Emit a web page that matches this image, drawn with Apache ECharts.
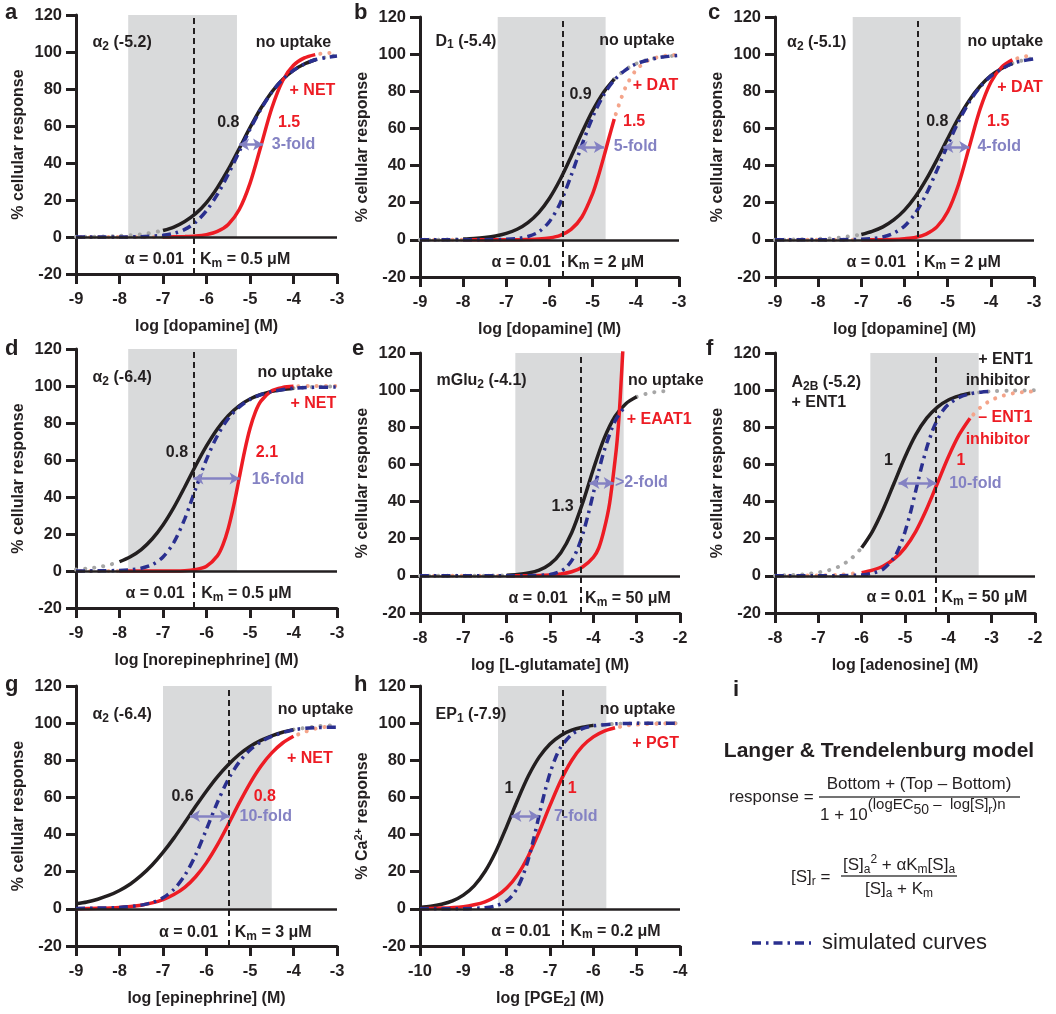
<!DOCTYPE html>
<html>
<head>
<meta charset="utf-8">
<script src="https://cdn.jsdelivr.net/npm/echarts@6/dist/echarts.min.js"></script>
<style>
  html, body { margin: 0; padding: 0; background: #fff; }
  #chart { width: 1056px; height: 1014px; }
</style>
</head>
<body>
<div id="chart"></div>
<script>
// ---- values: [log conc, % response] ----
// a: alpha2 / dopamine / NET
var aBlack = [[-7,3.5],[-6.75,5.4],[-6.5,8.4],[-6.25,12.6],[-6,18.6],[-5.75,26.7],[-5.5,36.5],[-5.25,47.7],[-5,59.1],[-4.75,69.6],[-4.5,78.4],[-4.25,85.2],[-4,90.1],[-3.75,93.5],[-3.5,95.8]];
var aBlackDotsL = [[-9,0.1],[-8.5,0.2],[-8,0.6],[-7.5,1.4],[-7,3.5]];
var aBlackDotsR = [[-3.5,95.8],[-3.25,97.2],[-3,98.3]];
var aRed = [[-7,0],[-6.75,0.1],[-6.5,0.2],[-6.25,0.5],[-6,1.3],[-5.75,3],[-5.5,6.8],[-5.25,14.7],[-5,29],[-4.75,49.1],[-4.5,69.6],[-4.25,84.5],[-4,92.8],[-3.75,96.8],[-3.5,98.6]];
var aRedDotsL = [[-9,0],[-8.5,0],[-8,0],[-7.5,0],[-7,0]];
var aRedDotsR = [[-3.5,98.6],[-3.25,99.4],[-3,99.7]];
var aBlue = [[-9,0],[-8.5,0],[-8,0],[-7.5,0.2],[-7,0.9],[-6.75,2],[-6.5,4.1],[-6.25,8],[-6,14.3],[-5.75,23],[-5.5,33.9],[-5.25,46],[-5,58.2],[-4.75,69.1],[-4.5,78.2],[-4.25,85.1],[-4,90.1],[-3.75,93.5],[-3.5,95.8],[-3.25,97],[-3,97.8]];

// b: D1 / dopamine / DAT
var bBlack = [[-8,0.5],[-7.75,0.8],[-7.5,1.3],[-7.25,2.1],[-7,3.5],[-6.75,5.7],[-6.5,9.3],[-6.25,14.7],[-6,22.4],[-5.75,32.6],[-5.5,44.8],[-5.25,57.7],[-5,69.6],[-4.75,79.4],[-4.5,86.6]];
var bBlackDotsL = [[-9,0],[-8.5,0.1],[-8,0.5]];
var bBlackDotsR = [[-4.5,86.6],[-4.25,91.5],[-4,94.8],[-3.75,96.8],[-3.5,98.1],[-3.25,98.9],[-3,99.3]];
var bRed = [[-8,0],[-7.5,0],[-7,0],[-6.5,0.2],[-6.25,0.4],[-6,1],[-5.75,2.4],[-5.5,5.6],[-5.25,12.3],[-5,24.9],[-4.875,33.8],[-4.75,44],[-4.625,54.7],[-4.5,65.1]];
var bRedDotsL = [[-9,0],[-8.5,0],[-8,0]];
var bRedDotsR = [[-4.5,65.1],[-4.25,81.5],[-4,91.3],[-3.75,96.1],[-3.5,98.3],[-3.25,99.3],[-3,99.7]];
var bBlue = [[-9,0],[-8.5,0],[-8,0],[-7.5,0.1],[-7,0.3],[-6.75,0.7],[-6.5,1.8],[-6.25,4.3],[-6,9.9],[-5.75,19.9],[-5.5,34.5],[-5.25,51],[-5,66.1],[-4.75,77.8],[-4.5,86],[-4.25,91.3],[-4,94.7],[-3.75,96.6],[-3.5,98],[-3.25,98.8],[-3,99.3]];

// c: alpha2 / dopamine / DAT
var cBlack = [[-7,2.9],[-6.75,4.6],[-6.5,7],[-6.25,10.7],[-6,16],[-5.75,23.2],[-5.5,32.4],[-5.25,43.1],[-5,54.6],[-4.75,65.6],[-4.5,75.1],[-4.25,82.7],[-4,88.4],[-3.75,92.3],[-3.5,95]];
var cBlackDotsL = [[-9,0],[-8.5,0.2],[-8,0.5],[-7.5,1.2],[-7,2.9]];
var cBlackDotsR = [[-3.5,95],[-3.25,96.7],[-3,97.9]];
var cRed = [[-7,0],[-6.5,0.1],[-6.25,0.2],[-6,0.6],[-5.75,1.3],[-5.5,3.1],[-5.25,7],[-5,15.1],[-4.75,29.7],[-4.5,50],[-4.25,70.3],[-4,84.9],[-3.75,93],[-3.5,96.9]];
var cRedDotsL = [[-9,0],[-8.5,0],[-8,0],[-7.5,0],[-7,0]];
var cRedDotsR = [[-3.5,96.9],[-3.25,98.6],[-3,99.4]];
var cBlue = [[-9,0],[-8.5,0],[-8,0],[-7.5,0.1],[-7,0.3],[-6.75,0.7],[-6.5,1.6],[-6.25,3.6],[-6,7.4],[-5.75,14.3],[-5.5,24.5],[-5.25,37.4],[-5,51],[-4.75,63.6],[-4.5,74.2],[-4.25,82.3],[-4,88.2],[-3.75,92],[-3.5,95],[-3.25,96.5],[-3,97.5]];

// d: alpha2 / norepinephrine / NET
var dBlack = [[-8,5],[-7.75,7.7],[-7.5,11.6],[-7.25,17.3],[-7,24.9],[-6.75,34.4],[-6.5,45.4],[-6.25,56.9],[-6,67.6],[-5.75,76.8],[-5.5,84],[-5.25,89.3],[-5,93],[-4.75,95.4],[-4.5,97.1],[-4.25,98.1],[-4,98.8]];
var dBlackDotsL = [[-9,0.8],[-8.75,1.3],[-8.5,2.1],[-8.25,3.2],[-8,5]];
var dBlackDotsR = [[-4,98.8],[-3.5,99.5],[-3,99.8]];
var dRed = [[-8,0],[-7.5,0],[-7,0],[-6.5,0.2],[-6.25,0.8],[-6,2.6],[-5.75,8.2],[-5.625,14],[-5.5,23],[-5.375,35.3],[-5.25,50],[-5.125,64.7],[-5,77],[-4.875,86],[-4.75,91.8],[-4.5,97.4],[-4.25,99.2],[-4,99.8]];
var dRedDotsL = [[-9,0],[-8.5,0],[-8,0]];
var dRedDotsR = [[-4,99.8],[-3.5,100],[-3,100]];
var dBlue = [[-9,0],[-8.5,0.1],[-8,0.3],[-7.75,0.7],[-7.5,1.5],[-7.25,3.4],[-7,7.6],[-6.75,15.5],[-6.5,28.2],[-6.25,44.4],[-6,60.3],[-5.75,73.1],[-5.5,82.4],[-5.25,88.6],[-5,92.7],[-4.75,95.3],[-4.5,97],[-4,98.8],[-3.5,99.3],[-3,99.4]];

// e: mGlu2 / L-glutamate / EAAT1
var eBlack = [[-6,0.3],[-5.75,0.7],[-5.5,1.5],[-5.25,3.1],[-5,6.3],[-4.75,12.5],[-4.5,23.2],[-4.25,39],[-4,57.4],[-3.75,74],[-3.5,85.8],[-3.25,92.7],[-3,96.4]];
var eBlackDotsL = [[-8,0],[-7,0],[-6,0.3]];
var eBlackDotsR = [[-3,96.4],[-2.75,98.2],[-2.5,99.2],[-2.2,99.6]];
var eRed = [[-6,0],[-5.5,0.1],[-5,0.5],[-4.75,1],[-4.5,2.2],[-4.25,4.8],[-4,10],[-3.875,15],[-3.75,25],[-3.625,39],[-3.5,62],[-3.45,73],[-3.4,88],[-3.36,104],[-3.32,121]];
var eRedDotsL = [[-8,0],[-7,0],[-6,0]];
var eBlue = [[-8,0],[-7,0],[-6,0],[-5.5,0.1],[-5,0.7],[-4.75,2.5],[-4.625,4.6],[-4.5,8.2],[-4.375,13.9],[-4.25,22],[-4.125,32.5],[-4,44.5],[-3.875,56.5],[-3.75,67.4],[-3.5,83.3],[-3.25,91.9]];

// f: A2B / adenosine / ENT1
var fBlack = [[-6,15.1],[-5.75,24],[-5.5,36],[-5.25,50],[-5,64],[-4.75,76],[-4.5,84.9],[-4.25,90.9],[-4,94.7],[-3.75,96.9],[-3.5,98.3]];
var fBlackDotsL = [[-8,0.1],[-7.75,0.3],[-7.5,0.6],[-7.25,1],[-7,1.8],[-6.75,3.1],[-6.5,5.3],[-6.25,9.1],[-6,15.1]];
var fBlackDotsR = [[-3.5,98.3],[-3,99.4],[-2.5,99.8],[-2,99.9]];
var fRed = [[-6,1.7],[-5.75,3.1],[-5.5,5.3],[-5.25,9.1],[-5,15.1],[-4.75,24],[-4.5,36],[-4.25,50],[-4,64],[-3.75,76],[-3.5,84.9]];
var fRedDotsL = [[-8,0],[-7.5,0.1],[-7,0.2],[-6.5,0.6],[-6,1.7]];
var fRedDotsR = [[-3.5,84.9],[-3.25,90.9],[-3,94.7],[-2.75,96.9],[-2.5,98.3],[-2.25,99],[-2,99.4]];
var fBlue = [[-8,0],[-7,0],[-6.5,0.1],[-6,0.5],[-5.75,1.4],[-5.5,3.7],[-5.25,9.9],[-5.125,15.6],[-5,23.7],[-4.875,34],[-4.75,46],[-4.625,58],[-4.5,68.8],[-4.375,77.6],[-4.25,84.2],[-4.125,89],[-4,92.3],[-3.75,96.1],[-3.5,98],[-3.25,98.9],[-3,99.4]];

// g: alpha2 / epinephrine / NET
var gBlack = [[-9,2.7],[-8.75,3.7],[-8.5,5.2],[-8.25,7.2],[-8,9.9],[-7.75,13.4],[-7.5,18],[-7.25,23.6],[-7,30.4],[-6.75,38.1],[-6.5,46.5],[-6.25,55.2],[-6,63.5],[-5.75,71.1],[-5.5,77.6],[-5.25,83.1],[-5,87.4],[-4.75,90.7],[-4.5,93.2],[-4.25,95.1],[-4,96.5]];
var gBlackDotsR = [[-4,96.5],[-3.5,98.2],[-3,99]];
var gRed = [[-9,0.1],[-8.5,0.3],[-8,0.8],[-7.5,2],[-7.25,3.2],[-7,5],[-6.75,7.7],[-6.5,11.6],[-6.25,17.3],[-6,24.9],[-5.75,34.4],[-5.5,45.4],[-5.25,56.9],[-5,67.6],[-4.75,76.8],[-4.5,84],[-4.25,89.3],[-4,92.9]];
var gRedDotsR = [[-4,92.9],[-3.75,95.2],[-3.5,97],[-3.25,98]];
var gBlue = [[-9,0.2],[-8.5,0.4],[-8,0.8],[-7.5,2],[-7.25,3.4],[-7,6],[-6.75,10.5],[-6.5,18],[-6.25,29],[-6,42.9],[-5.75,57.3],[-5.5,69.7],[-5.25,79],[-5,85.5],[-4.75,89.9],[-4.5,92.9],[-4,96.4],[-3.5,97.6],[-3,97.8]];

// h: EP1 / PGE2 / PGT
var hBlack = [[-10,0.8],[-9.75,1.4],[-9.5,2.5],[-9.25,4.3],[-9,7.4],[-8.75,12.4],[-8.5,20.1],[-8.25,30.9],[-8,44.3],[-7.75,58.5],[-7.5,71.5],[-7.25,81.7],[-7,88.8],[-6.75,93.4],[-6.5,96.2],[-6.25,97.8],[-6,98.8]];
var hBlackDotsR = [[-6,98.8],[-5.5,99.6],[-5,99.9],[-4.5,100],[-4,100]];
var hRed = [[-10,0.1],[-9.5,0.4],[-9,1.2],[-8.75,2.2],[-8.5,3.8],[-8.25,6.6],[-8,11.2],[-7.75,18.3],[-7.5,28.5],[-7.25,41.5],[-7,55.7],[-6.75,69.1],[-6.5,79.9],[-6.25,87.6],[-6,92.6],[-5.75,95.7],[-5.5,97.5]];
var hRedDotsR = [[-5.5,97.5],[-5.25,98.6],[-5,99.2],[-4.5,99.7],[-4,99.9]];
var hBlue = [[-10,0],[-9,0.1],[-8.5,0.6],[-8.25,1.6],[-8,4.3],[-7.875,7.1],[-7.75,11.4],[-7.625,17.9],[-7.5,26.7],[-7.375,37.9],[-7.25,50.5],[-7.125,62.6],[-7,73],[-6.875,81.2],[-6.75,87.1],[-6.5,93.9],[-6.25,97.1],[-6,98.5],[-5.5,99.6],[-5,99.9],[-4,100]];

// per-panel x ranges, grey windows, Km lines, fold arrows (log units)
var xRanges = [[-9,-3],[-9,-3],[-9,-3],[-9,-3],[-8,-2],[-8,-2],[-9,-3],[-10,-4]];
var bands   = [[-7.8,-5.3],[-7.2,-4.7],[-7.2,-4.7],[-7.8,-5.3],[-5.8,-3.3],[-5.8,-3.3],[-7,-4.5],[-8.2,-5.7]];
var kmLines = [-6.3,-5.7,-5.7,-6.3,-4.3,-4.3,-5.5,-6.7];
var folds   = [[-5.25,-4.7],[-5.35,-4.74],[-5.1,-4.5],[-6.3,-5.24],[-4.09,-3.53],[-5.15,-4.28],[-6.38,-5.47],[-7.89,-7.26]];
var xNames  = ['log [dopamine] (M)','log [dopamine] (M)','log [dopamine] (M)','log [norepinephrine] (M)',
               'log [L-glutamate] (M)','log [adenosine] (M)','log [epinephrine] (M)','log [PGE{s|2}] (M)'];
var yNames  = ['% cellular response','% cellular response','% cellular response','% cellular response',
               '% cellular response','% cellular response','% cellular response','% Ca{u|2+} response'];

var FONT = '"Liberation Sans", Arial, Helvetica, sans-serif';
var INK = '#231f20', RED = '#ed1c24', BLUE = '#2a2f8f', LILAC = '#8482c3';
var DOTGRAY = '#a6a6a6', SALMON = '#f4a48a', BAND = '#d9dadb';
var COLORS = {k: INK, r: RED, p: LILAC};

// plot boxes [left, top, width, height]
var boxes = [[76,15,261,259],[420,17,259,260],[775,17,259,260],
             [76,349,261,259],[420,353,260,260],[775,353,260,260],
             [76,686,261,260],[420,686,260,260]];

// annotation text: [x, y, text, align, colour]
var notes = [
  [[-8.62,105,'α{s|2} (-5.2)','left','k'],[-4.87,105,'no uptake','left','k'],[-4.09,79,'+ NET','left','r'],
   [-5.5,62,'0.8','center','k'],[-4.1,62,'1.5','center','r'],[-4.5,50,'3-fold','left','p'],
   [-6.52,-12,'α = 0.01','right','k'],[-6.15,-12,'K{s|m} = 0.5 μM','left','k']],
  [[-8.64,107,'D{s|1} (-5.4)','left','k'],[-4.85,107.5,'no uptake','left','k'],[-4.07,83,'+ DAT','left','r'],
   [-5.28,78,'0.9','center','k'],[-4.04,63.5,'1.5','center','r'],[-4.51,50,'5-fold','left','p'],
   [-5.97,-12,'α = 0.01','right','k'],[-5.59,-12,'K{s|m} = 2 μM','left','k']],
  [[-8.72,106,'α{s|2} (-5.1)','left','k'],[-4.54,106.7,'no uptake','left','k'],[-3.85,82,'+ DAT','left','r'],
   [-5.24,63.5,'0.8','center','k'],[-3.83,63.5,'1.5','center','r'],[-4.31,50,'4-fold','left','p'],
   [-5.97,-12,'α = 0.01','right','k'],[-5.55,-12,'K{s|m} = 2 μM','left','k']],
  [[-8.62,104.7,'α{s|2} (-6.4)','left','k'],[-4.83,107,'no uptake','left','k'],[-4.07,90.3,'+ NET','left','r'],
   [-6.68,64,'0.8','center','k'],[-4.61,64,'2.1','center','r'],[-4.96,49.6,'16-fold','left','p'],
   [-6.5,-12.2,'α = 0.01','right','k'],[-6.12,-12.2,'K{s|m} = 0.5 μM','left','k']],
  [[-7.62,105,'mGlu{s|2} (-4.1)','left','k'],[-3.2,105,'no uptake','left','k'],[-3.23,84,'+ EAAT1','left','r'],
   [-4.71,37.4,'1.3','center','k'],[-3.5,50,'>2-fold','left','p'],
   [-4.59,-12.2,'α = 0.01','right','k'],[-4.19,-12.2,'K{s|m} = 50 μM','left','k']],
  [[-7.62,104,'A{s|2B} (-5.2)','left','k'],[-7.62,93.4,'+ ENT1','left','k'],
   [-3.31,116.7,'+ ENT1','left','k'],[-3.6,105,'inhibitor','left','k'],
   [-3.31,85,'– ENT1','left','r'],[-3.6,73.6,'inhibitor','left','r'],
   [-5.38,62.3,'1','center','k'],[-3.71,62.3,'1','center','r'],[-3.98,49.7,'10-fold','left','p'],
   [-4.52,-11.7,'α = 0.01','right','k'],[-4.16,-11.7,'K{s|m} = 50 μM','left','k']],
  [[-8.62,104.5,'α{s|2} (-6.4)','left','k'],[-4.36,107.2,'no uptake','left','k'],[-4.15,81,'+ NET','left','r'],
   [-6.55,60.4,'0.6','center','k'],[-4.66,60.4,'0.8','center','r'],[-5.24,49.5,'10-fold','left','p'],
   [-5.73,-12.6,'α = 0.01','right','k'],[-5.35,-12.6,'K{s|m} = 3 μM','left','k']],
  [[-9.64,104.5,'EP{s|1} (-7.9)','left','k'],[-5.85,107.2,'no uptake','left','k'],[-5.1,89.2,'+ PGT','left','r'],
   [-7.95,65,'1','center','k'],[-6.49,65,'1','center','r'],[-6.91,49.5,'7-fold','left','p'],
   [-6.99,-12,'α = 0.01','right','k'],[-6.53,-12,'K{s|m} = 0.2 μM','left','k']]
];

var curves = [
  {black:aBlack, blackDots:[aBlackDotsL,aBlackDotsR], red:aRed, redDots:[aRedDotsL,aRedDotsR], blue:aBlue},
  {black:bBlack, blackDots:[bBlackDotsL,bBlackDotsR], red:bRed, redDots:[bRedDotsL,bRedDotsR], blue:bBlue},
  {black:cBlack, blackDots:[cBlackDotsL,cBlackDotsR], red:cRed, redDots:[cRedDotsL,cRedDotsR], blue:cBlue},
  {black:dBlack, blackDots:[dBlackDotsL,dBlackDotsR], red:dRed, redDots:[dRedDotsL,dRedDotsR], blue:dBlue},
  {black:eBlack, blackDots:[eBlackDotsL,eBlackDotsR], red:eRed, redDots:[eRedDotsL], blue:eBlue},
  {black:fBlack, blackDots:[fBlackDotsL,fBlackDotsR], red:fRed, redDots:[fRedDotsL,fRedDotsR], blue:fBlue},
  {black:gBlack, blackDots:[gBlackDotsR], red:gRed, redDots:[gRedDotsR], blue:gBlue},
  {black:hBlack, blackDots:[hBlackDotsR], red:hRed, redDots:[hRedDotsR], blue:hBlue}
];

var RICH = {
  s: {fontFamily: FONT, fontWeight: 'bold', fontSize: 12, lineHeight: 12, verticalAlign: 'bottom'},
  u: {fontFamily: FONT, fontWeight: 'bold', fontSize: 11, lineHeight: 11, verticalAlign: 'top'}
};

var chart = echarts.init(document.getElementById('chart'));

var grids = [], xAxes = [], yAxes = [], series = [];

boxes.forEach(function(b, i) {
  grids.push({left: b[0], top: b[1], width: b[2], height: b[3], containLabel: false});

  var axisCommon = {
    gridIndex: i,
    nameLocation: 'middle',
    nameMoveOverlap: false,
    nameTextStyle: {fontFamily: FONT, fontWeight: 'bold', fontSize: 16, color: INK, lineHeight: 20, rich: RICH},
    axisLine: {onZero: false, lineStyle: {color: INK, width: 3}},
    axisTick: {length: 10, lineStyle: {color: INK, width: 3}},
    splitLine: {show: false}
  };
  xAxes.push(Object.assign({}, axisCommon, {
    type: 'value', min: xRanges[i][0], max: xRanges[i][1], interval: 1,
    name: xNames[i], nameGap: 43,
    axisLabel: {fontFamily: FONT, fontWeight: 'bold', fontSize: 16.5, color: INK, margin: 17,
                showMinLabel: true, showMaxLabel: true}
  }));
  yAxes.push(Object.assign({}, axisCommon, {
    type: 'value', min: -20, max: 120, interval: 20,
    name: yNames[i], nameGap: 47,
    axisLabel: {fontFamily: FONT, fontWeight: 'bold', fontSize: 16.5, color: INK, margin: 14,
                showMinLabel: true, showMaxLabel: true}
  }));

  var base = {type: 'line', xAxisIndex: i, yAxisIndex: i, showSymbol: false, symbol: 'none',
              smooth: 0.3, silent: true, animation: false};

  // grey window (above the zero line), zero line and Km line
  series.push(Object.assign({}, base, {
    data: [],
    markArea: {silent: true, itemStyle: {color: BAND},
               data: [[{xAxis: bands[i][0], yAxis: 0}, {xAxis: bands[i][1], yAxis: 120}]]},
    markLine: {silent: true, symbol: ['none', 'none'], label: {show: false},
               data: [
                 {yAxis: 0, lineStyle: {color: INK, width: 2.5, type: 'solid'}},
                 {xAxis: kmLines[i], lineStyle: {color: INK, width: 2, type: [6, 4]}}
               ]}
  }));

  var c = curves[i];
  c.blackDots.forEach(function(d) {
    series.push(Object.assign({}, base, {data: d,
      lineStyle: {color: DOTGRAY, width: 4, type: [0.1, 9], cap: 'round'}}));
  });
  c.redDots.forEach(function(d) {
    series.push(Object.assign({}, base, {data: d,
      lineStyle: {color: SALMON, width: 4, type: [0.1, 9], cap: 'round', dashOffset: 4}}));
  });
  series.push(Object.assign({}, base, {data: c.black, lineStyle: {color: INK, width: 3.5}}));
  series.push(Object.assign({}, base, {data: c.red, lineStyle: {color: RED, width: 3.5}}));

  var labels = notes[i].map(function(n) {
    return {
      coord: [n[0], n[1]], symbol: 'circle', symbolSize: 0,
      label: {
        show: true, position: 'inside', align: n[3], verticalAlign: 'middle',
        color: COLORS[n[4]], fontFamily: FONT, fontWeight: 'bold', fontSize: 16, lineHeight: 20,
        rich: RICH,
        formatter: function() { return n[2]; }
      }
    };
  });

  series.push(Object.assign({}, base, {
    data: c.blue, z: 3,
    lineStyle: {color: BLUE, width: 3.5, type: [9, 5, 2.5, 5], cap: 'butt'},
    markLine: {silent: true, symbol: ['arrow', 'arrow'], symbolSize: [9, 10], label: {show: false},
               lineStyle: {color: LILAC, width: 2.5, type: 'solid'},
               data: [[{coord: [folds[i][0], 50]}, {coord: [folds[i][1], 50]}]]},
    markPoint: {silent: true, data: labels}
  }));
});

// panel letters
var letters = [['a',5,13],['b',354,13],['c',708,13],['d',5,349],['e',352,349],['f',706,349],['g',5,685],['h',354,685],['i',733,690]];
var graphic = letters.map(function(l) {
  return {type: 'text', x: l[1], y: l[2],
          style: {text: l[0], font: 'bold 22px ' + FONT, fill: INK, align: 'left', verticalAlign: 'middle'}};
});

// panel i: model text
var MT = '17px ' + FONT;
var mathRich = {
  s: {fontFamily: FONT, fontSize: 12, lineHeight: 12, verticalAlign: 'bottom', fill: INK},
  u: {fontFamily: FONT, fontSize: 12, lineHeight: 12, verticalAlign: 'top', fill: INK}
};
graphic.push(
  {type: 'text', x: 879, y: 751, style: {text: 'Langer & Trendelenburg model', font: 'bold 21px ' + FONT,
    fill: INK, align: 'center', verticalAlign: 'middle'}},
  {type: 'text', x: 729, y: 797, style: {text: 'response =', font: MT, fill: INK, align: 'left', verticalAlign: 'middle'}},
  {type: 'text', x: 919, y: 784, style: {text: 'Bottom + (Top – Bottom)', font: MT, fill: INK, align: 'center', verticalAlign: 'middle'}},
  {type: 'line', shape: {x1: 819, y1: 797, x2: 1020, y2: 797}, style: {stroke: '#444', lineWidth: 1.5}},
  {type: 'text', x: 819, y: 797.5, style: {
    text: '{z| }{b|1 + 10}{p|(logEC}{d|50}{p| –  log[S]}{r|r}{p|)n}',
    fill: INK, align: 'left', verticalAlign: 'top',
    rich: {
      z: {fontFamily: FONT, fontSize: 4, lineHeight: 26, width: 1, fill: INK},
      b: {fontFamily: FONT, fontSize: 17, lineHeight: 17, verticalAlign: 'bottom', fill: INK},
      p: {fontFamily: FONT, fontSize: 15, lineHeight: 15, verticalAlign: 'top', fill: INK},
      d: {fontFamily: FONT, fontSize: 14, lineHeight: 14, verticalAlign: 'middle', fill: INK},
      r: {fontFamily: FONT, fontSize: 12, lineHeight: 12, verticalAlign: 'middle', fill: INK}
    }}},
  {type: 'text', x: 791, y: 877, style: {text: '[S]{s|r} =', font: MT, lineHeight: 22, fill: INK,
    align: 'left', verticalAlign: 'middle', rich: mathRich}},
  {type: 'text', x: 899, y: 865, style: {text: '[S]{s|a}{u|2} + αK{s|m}[S]{s|a}', font: MT, lineHeight: 22, fill: INK,
    align: 'center', verticalAlign: 'middle', rich: mathRich}},
  {type: 'line', shape: {x1: 841, y1: 876, x2: 957, y2: 876}, style: {stroke: '#444', lineWidth: 1.5}},
  {type: 'text', x: 899, y: 889, style: {text: '[S]{s|a} + K{s|m}', font: MT, lineHeight: 22, fill: INK,
    align: 'center', verticalAlign: 'middle', rich: mathRich}},
  {type: 'line', shape: {x1: 752, y1: 943, x2: 811, y2: 943},
    style: {stroke: BLUE, lineWidth: 3.5, lineDash: [9, 5, 2.5, 5]}},
  {type: 'text', x: 822, y: 943, style: {text: 'simulated curves', font: '22px ' + FONT, fill: INK,
    align: 'left', verticalAlign: 'middle'}}
);

chart.setOption({
  animation: false,
  backgroundColor: '#fff',
  textStyle: {fontFamily: FONT},
  grid: grids,
  xAxis: xAxes,
  yAxis: yAxes,
  series: series,
  graphic: graphic
});
</script>
</body>
</html>
